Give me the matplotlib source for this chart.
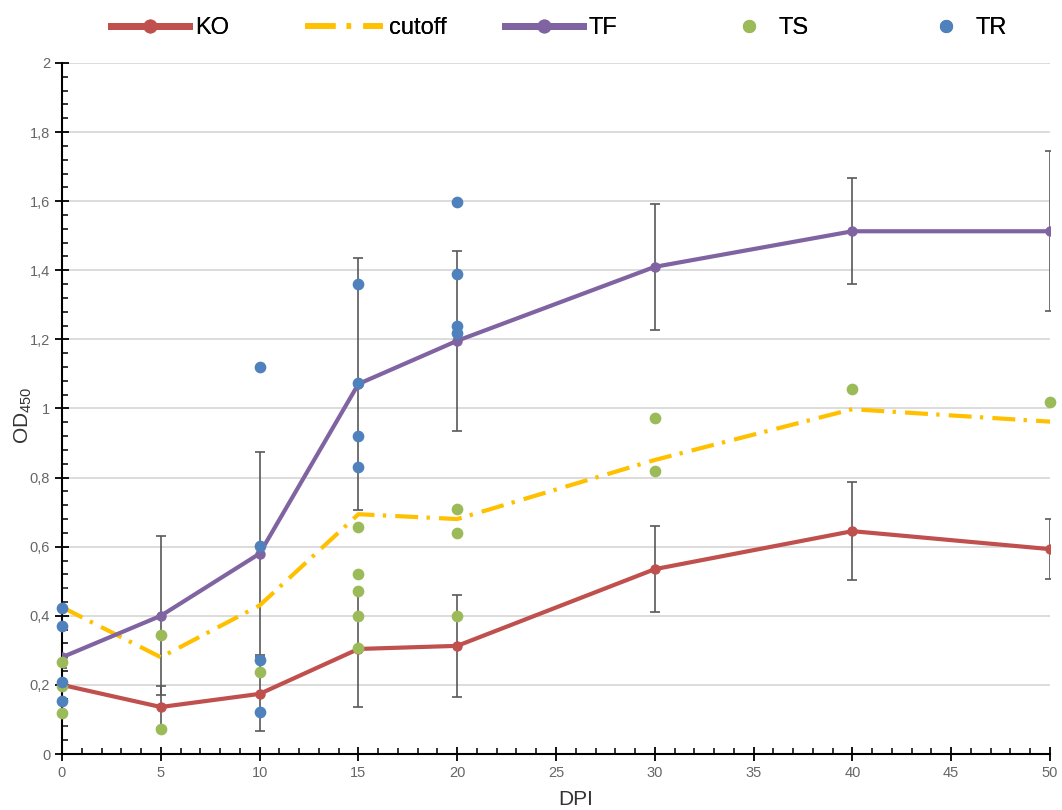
import matplotlib
matplotlib.use("Agg")
import matplotlib.pyplot as plt
from matplotlib.ticker import MultipleLocator, FuncFormatter
from matplotlib.lines import Line2D

plt.rcParams["font.family"] = ["Liberation Sans", "DejaVu Sans"]
plt.rcParams["mathtext.default"] = "regular"

# data
dpi_days = [0, 5, 10, 15, 20, 30, 40, 50]
ko = [0.20, 0.136, 0.174, 0.304, 0.313, 0.535, 0.645, 0.593]
ko_err = [0.05, 0.06, 0.107, 0.168, 0.147, 0.125, 0.141, 0.087]
tf = [0.28, 0.40, 0.58, 1.071, 1.196, 1.41, 1.513, 1.513]
tf_err = [0.20, 0.23, 0.294, 0.365, 0.26, 0.182, 0.153, 0.232]
cutoff = [0.425, 0.28, 0.43, 0.694, 0.68, 0.851, 0.998, 0.962]

ts_x = [0, 0, 0, 5, 5, 10, 15, 15, 15, 15, 15, 20, 20, 20, 30, 30, 40, 50]
ts_y = [0.267, 0.197, 0.118, 0.344, 0.072, 0.237, 0.658, 0.522, 0.472, 0.40,
        0.306, 0.71, 0.639, 0.40, 0.973, 0.819, 1.056, 1.02]
tr_x = [0, 0, 0, 0, 10, 10, 10, 10, 15, 15, 15, 15, 20, 20, 20, 20]
tr_y = [0.422, 0.371, 0.207, 0.153, 1.12, 0.602, 0.272, 0.121, 1.359, 1.073,
        0.921, 0.83, 1.599, 1.389, 1.239, 1.218]

KO_C = "#C0504D"
TF_C = "#8064A2"
CUT_C = "#FFC000"
TS_C = "#9BBB59"
TR_C = "#4F81BD"
GRAY = "#595959"
CUT_LS = (0, (5.5, 2, 0.8, 2.2))

fig = plt.figure(figsize=(10.62, 8.1), dpi=100)
ax = fig.add_axes([62 / 1062, 56 / 810, 988 / 1062, 691 / 810])

for vals, errs in [(ko, ko_err), (tf, tf_err)]:
    ax.errorbar(dpi_days, vals, yerr=errs, fmt="none", ecolor=GRAY, elinewidth=1.2,
                capsize=3.5, capthick=1.2, zorder=2)
ax.plot(dpi_days, cutoff, color=CUT_C, lw=3, ls=CUT_LS, zorder=3)
ax.plot(dpi_days, ko, color=KO_C, lw=3, marker="o", ms=6.5, zorder=3)
ax.plot(dpi_days, tf, color=TF_C, lw=3, marker="o", ms=6.5, zorder=3)
ax.scatter(ts_x, ts_y, s=55, color=TS_C, zorder=4, clip_on=False)
ax.scatter(tr_x, tr_y, s=55, color=TR_C, zorder=4, clip_on=False)

ax.set_xlim(0, 50)
ax.set_ylim(0, 2)
ax.xaxis.set_major_locator(MultipleLocator(5))
ax.xaxis.set_minor_locator(MultipleLocator(1))
ax.yaxis.set_major_locator(MultipleLocator(0.2))
ax.yaxis.set_minor_locator(MultipleLocator(0.04))


def comma(v, pos):
    s = "%g" % round(v, 2)
    return s.replace(".", ",")


ax.yaxis.set_major_formatter(FuncFormatter(comma))
ax.tick_params(which="major", direction="inout", length=10, width=1.3, colors="black",
               labelcolor="#666666", labelsize=10.5)
ax.tick_params(which="minor", direction="in", length=4, width=1.1, colors="black")
ax.grid(axis="y", which="major", color="#D9D9D9", lw=1.3, zorder=0)
ax.set_axisbelow(True)
for side in ["top", "right"]:
    ax.spines[side].set_visible(False)
for side in ["left", "bottom"]:
    ax.spines[side].set_linewidth(1.5)

ax.set_xlabel("DPI", fontsize=15, color="#333333")
ax.xaxis.set_label_coords(0.52, -0.052)
ax.set_ylabel("OD$_{450}$", fontsize=15, color="#333333")
ax.yaxis.set_label_coords(-0.028, 0.49)

# one legend per entry so the columns sit where the reference has them
entries = [
    (Line2D([], [], color=KO_C, lw=5, marker="o", ms=9), "KO", 111, 3.3),
    (Line2D([], [], color=CUT_C, lw=4, ls=CUT_LS), "cutoff", 305, 3.3),
    (Line2D([], [], color=TF_C, lw=5, marker="o", ms=9), "TF", 505, 3.3),
    (Line2D([], [], color=TS_C, lw=0, marker="o", ms=8.5), "TS", 725, 2.0),
    (Line2D([], [], color=TR_C, lw=0, marker="o", ms=8.5), "TR", 922, 2.0),
]
for handle, label, x0, hl in entries:
    leg = fig.legend([handle], [label], loc="center left",
                     bbox_to_anchor=(x0 / 1062, 1 - 28 / 810), frameon=False,
                     fontsize=17, handlelength=hl, handletextpad=0.25, borderpad=0,
                     borderaxespad=0)
    fig.add_artist(leg)

fig.savefig("out.png", dpi=100)
